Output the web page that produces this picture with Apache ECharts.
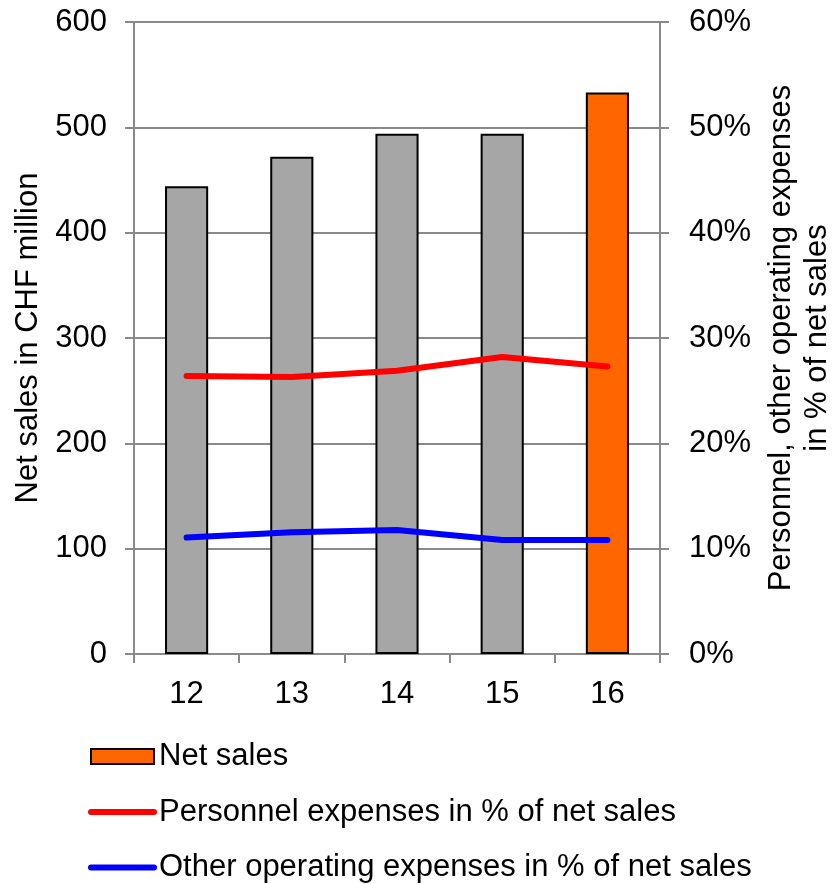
<!DOCTYPE html>
<html>
<head>
<meta charset="utf-8">
<script src="https://cdn.jsdelivr.net/npm/echarts@6/dist/echarts.min.js"></script>
<style>
html,body{margin:0;padding:0;background:#fff;}
#chart{width:834px;height:884px;}
</style>
</head>
<body>
<div id="chart"></div>
<script>
const categories = ['12', '13', '14', '15', '16'];
const netSales = [444, 472, 494, 494, 533];
const personnelPct = [26.4, 26.3, 26.9, 28.2, 27.3];
const otherPct = [11.05, 11.56, 11.78, 10.83, 10.83];
const seriesNames = ['Net sales', 'Personnel expenses in % of net sales', 'Other operating expenses in % of net sales'];
const leftAxisTitle = 'Net sales in CHF million';
const rightAxisTitle = 'Personnel, other operating expenses\nin % of net sales';

const FONT = 'Liberation Sans, Arial, sans-serif';
const FS = 31;
const GRID = '#8a8a8a';
const chart = echarts.init(document.getElementById('chart'));
const barData = netSales.map((v, i) => ({
  value: v,
  itemStyle: { color: i === netSales.length - 1 ? '#ff6600' : '#a6a6a6' }
}));

chart.setOption({
  backgroundColor: '#ffffff',
  animation: false,
  textStyle: { fontFamily: FONT },
  grid: { left: 134, right: 174, top: 22, bottom: 230, containLabel: false, outerBoundsMode: 'none' },
  legend: {
    orient: 'vertical',
    left: 88,
    top: 741,
    padding: 0,
    height: 143,
    itemWidth: 63,
    itemHeight: 15,
    itemGap: 24.5,
    textStyle: { fontFamily: FONT, fontSize: FS, color: '#000', lineHeight: 30 },
    lineStyle: { width: 6, cap: 'round' },
    data: [
      { name: seriesNames[0], icon: 'rect' },
      { name: seriesNames[1], itemStyle: { opacity: 0 } },
      { name: seriesNames[2], itemStyle: { opacity: 0 } }
    ]
  },
  xAxis: {
    type: 'category',
    data: categories,
    boundaryGap: true,
    axisLine: { lineStyle: { color: GRID, width: 2 } },
    axisTick: { show: true, length: 9, lineStyle: { color: GRID, width: 2 } },
    axisLabel: { fontFamily: FONT, fontSize: FS, color: '#000', margin: 25 }
  },
  yAxis: [
    {
      type: 'value',
      min: 0, max: 600, interval: 100,
      position: 'left',
      name: leftAxisTitle,
      nameLocation: 'middle',
      nameRotate: 90,
      nameGap: 86,
      nameTextStyle: { fontFamily: FONT, fontSize: FS, color: '#000' },
      axisLine: { show: true, lineStyle: { color: GRID, width: 2 } },
      axisTick: { show: true, length: 9, lineStyle: { color: GRID, width: 2 } },
      splitLine: { show: true, lineStyle: { color: GRID, width: 2 } },
      axisLabel: { fontFamily: FONT, fontSize: FS, color: '#000', margin: 27 }
    },
    {
      type: 'value',
      min: 0, max: 60, interval: 10,
      position: 'right',
      name: rightAxisTitle,
      nameLocation: 'middle',
      nameRotate: 90,
      nameGap: 103,
      nameTextStyle: { fontFamily: FONT, fontSize: FS, color: '#000', lineHeight: 36, align: 'center' },
      axisLine: { show: true, lineStyle: { color: GRID, width: 2 } },
      axisTick: { show: true, length: 9, lineStyle: { color: GRID, width: 2 } },
      splitLine: { show: false },
      axisLabel: { fontFamily: FONT, fontSize: FS, color: '#000', margin: 29, formatter: '{value}%' }
    }
  ],
  series: [
    {
      name: seriesNames[0],
      type: 'bar',
      yAxisIndex: 0,
      barWidth: '41%',
      itemStyle: { color: '#ff6600', borderColor: '#000', borderWidth: 2 },
      data: barData,
      z: 2
    },
    {
      name: seriesNames[1],
      type: 'line',
      yAxisIndex: 1,
      symbol: 'none',
      lineStyle: { color: '#ff0000', width: 6, cap: 'round', join: 'round' },
      itemStyle: { color: '#ff0000' },
      data: personnelPct,
      z: 3
    },
    {
      name: seriesNames[2],
      type: 'line',
      yAxisIndex: 1,
      symbol: 'none',
      lineStyle: { color: '#0000ff', width: 6, cap: 'round', join: 'round' },
      itemStyle: { color: '#0000ff' },
      data: otherPct,
      z: 3
    }
  ]
});
</script>
</body>
</html>
